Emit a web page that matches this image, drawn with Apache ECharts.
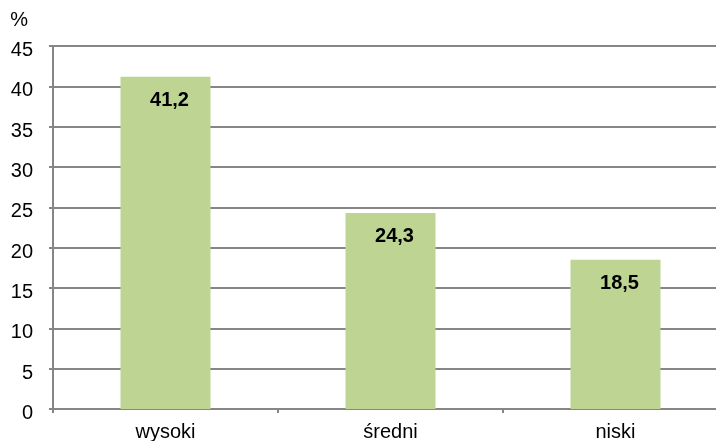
<!DOCTYPE html>
<html>
<head>
<meta charset="utf-8">
<script src="https://cdn.jsdelivr.net/npm/echarts@6/dist/echarts.min.js"></script>
<style>
  html, body { margin: 0; padding: 0; background: #fff; }
  #main { width: 716px; height: 441px; }
</style>
</head>
<body>
<div id="main"></div>
<script>
const categories = ['wysoki', 'średni', 'niski'];
const values = [41.2, 24.3, 18.5];
const yTicks = [0, 5, 10, 15, 20, 25, 30, 35, 40, 45];

const chart = echarts.init(document.getElementById('main'));

const option = {
  animation: false,
  textStyle: { fontFamily: 'Liberation Sans, Arial, sans-serif' },
  grid: { left: 53, top: 46, bottom: 32, right: -12, outerBoundsMode: 'none' },
  xAxis: {
    type: 'category',
    data: categories,
    axisLine: { lineStyle: { color: '#868686', width: 2 } },
    axisTick: { show: true, length: 4, lineStyle: { color: '#868686', width: 2 } },
    axisLabel: { color: '#000', fontSize: 20, margin: 13 }
  },
  yAxis: {
    type: 'value',
    min: yTicks[0],
    max: yTicks[yTicks.length - 1],
    interval: 5,
    name: '%',
    nameLocation: 'end',
    nameGap: 16,
    nameTextStyle: { color: '#000', fontSize: 20, align: 'right', padding: [0, 25, 0, 0] },
    axisLine: { show: true, lineStyle: { color: '#868686', width: 2 } },
    axisTick: { show: true, length: 4, lineStyle: { color: '#868686', width: 2 } },
    axisLabel: { color: '#000', fontSize: 20, margin: 20, verticalAlign: 'top', lineHeight: 9 },
    splitLine: { lineStyle: { color: '#868686', width: 2 } }
  },
  series: [{
    type: 'bar',
    data: values,
    barWidth: '40%',
    itemStyle: { color: '#bdd492' },
    label: {
      show: true,
      position: 'insideTop',
      distance: 14,
      offset: [4, 0],
      color: '#000',
      fontSize: 20,
      fontWeight: 'bold',
      formatter: p => String(p.value).replace('.', ',')
    }
  }]
};

chart.setOption(option);
</script>
</body>
</html>
